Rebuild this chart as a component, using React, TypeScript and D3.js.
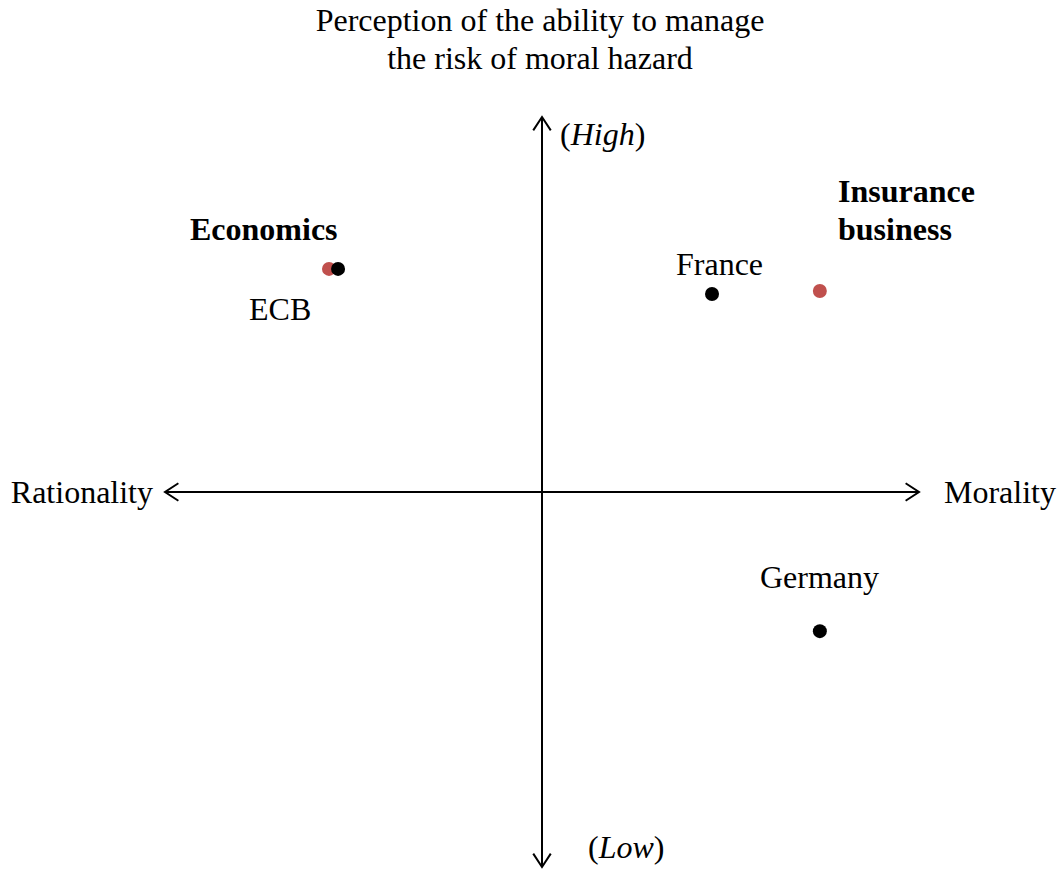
import React from 'react';
import * as d3 from 'd3';

const width = 1064;
const height = 873;
const cx = 542;
const cy = 492;

// positions on a -10..10 perceptual map
const pointNames = ['Economics', 'ECB', 'France', 'Insurance business', 'Germany'];
const pointX = [-5.65, -5.41, 4.51, 7.37, 7.37];
const pointY = [5.95, 5.95, 5.28, 5.36, -3.71];
const pointKind = ['discipline', 'actor', 'actor', 'discipline', 'actor'];

const titleLines = ['Perception of the ability to manage', 'the risk of moral hazard'];

const colors: Record<string, string> = { discipline: '#c0504d', actor: '#000000' };

const font = '"Liberation Serif", "Times New Roman", serif';

export default function App() {
  const x = d3.scaleLinear().domain([-10, 10]).range([cx - 377, cx + 377]);
  const y = d3.scaleLinear().domain([-10, 10]).range([cy + 375, cy - 375]);

  const arrow = (x1: number, y1: number, x2: number, y2: number) => {
    const a = Math.atan2(y2 - y1, x2 - x1);
    const len = 16;
    const spread = 0.58;
    const p1 = [x2 - len * Math.cos(a - spread), y2 - len * Math.sin(a - spread)];
    const p2 = [x2 - len * Math.cos(a + spread), y2 - len * Math.sin(a + spread)];
    return `M${p1[0]},${p1[1]}L${x2},${y2}L${p2[0]},${p2[1]}`;
  };

  const x0 = x(-10), x1 = x(10), yTop = y(10), yBot = y(-10);

  return (
    <svg width={width} height={height} style={{ position: 'absolute', left: 0, top: 0 }}
      fontFamily={font} fontSize={32}>
      <rect width={width} height={height} fill="#fff" />
      {titleLines.map((t, i) => (
        <text key={t} x={540} y={31 + i * 38} textAnchor="middle">{t}</text>
      ))}

      <g stroke="#000" strokeWidth={2} fill="none">
        <line x1={x0} y1={cy} x2={x1} y2={cy} />
        <line x1={x(0)} y1={yTop} x2={x(0)} y2={yBot} />
        <path d={arrow(x(0), cy, x0, cy)} />
        <path d={arrow(x(0), cy, x1, cy)} />
        <path d={arrow(x(0), cy, x(0), yTop)} />
        <path d={arrow(x(0), cy, x(0), yBot)} />
      </g>

      <text x={153} y={503} textAnchor="end">Rationality</text>
      <text x={944} y={503}>Morality</text>
      <text x={560} y={145}>(<tspan fontStyle="italic">High</tspan>)</text>
      <text x={588} y={858}>(<tspan fontStyle="italic">Low</tspan>)</text>

      {pointNames.map((n, i) => (
        <circle key={n} cx={x(pointX[i])} cy={y(pointY[i])} r={7} fill={colors[pointKind[i]]} />
      ))}

      <text x={190} y={240} fontWeight="bold">Economics</text>
      <text x={838} y={202} fontWeight="bold">Insurance</text>
      <text x={838} y={240} fontWeight="bold">business</text>
      <text x={676} y={275}>France</text>
      <text x={249} y={320}>ECB</text>
      <text x={760} y={588}>Germany</text>
    </svg>
  );
}
